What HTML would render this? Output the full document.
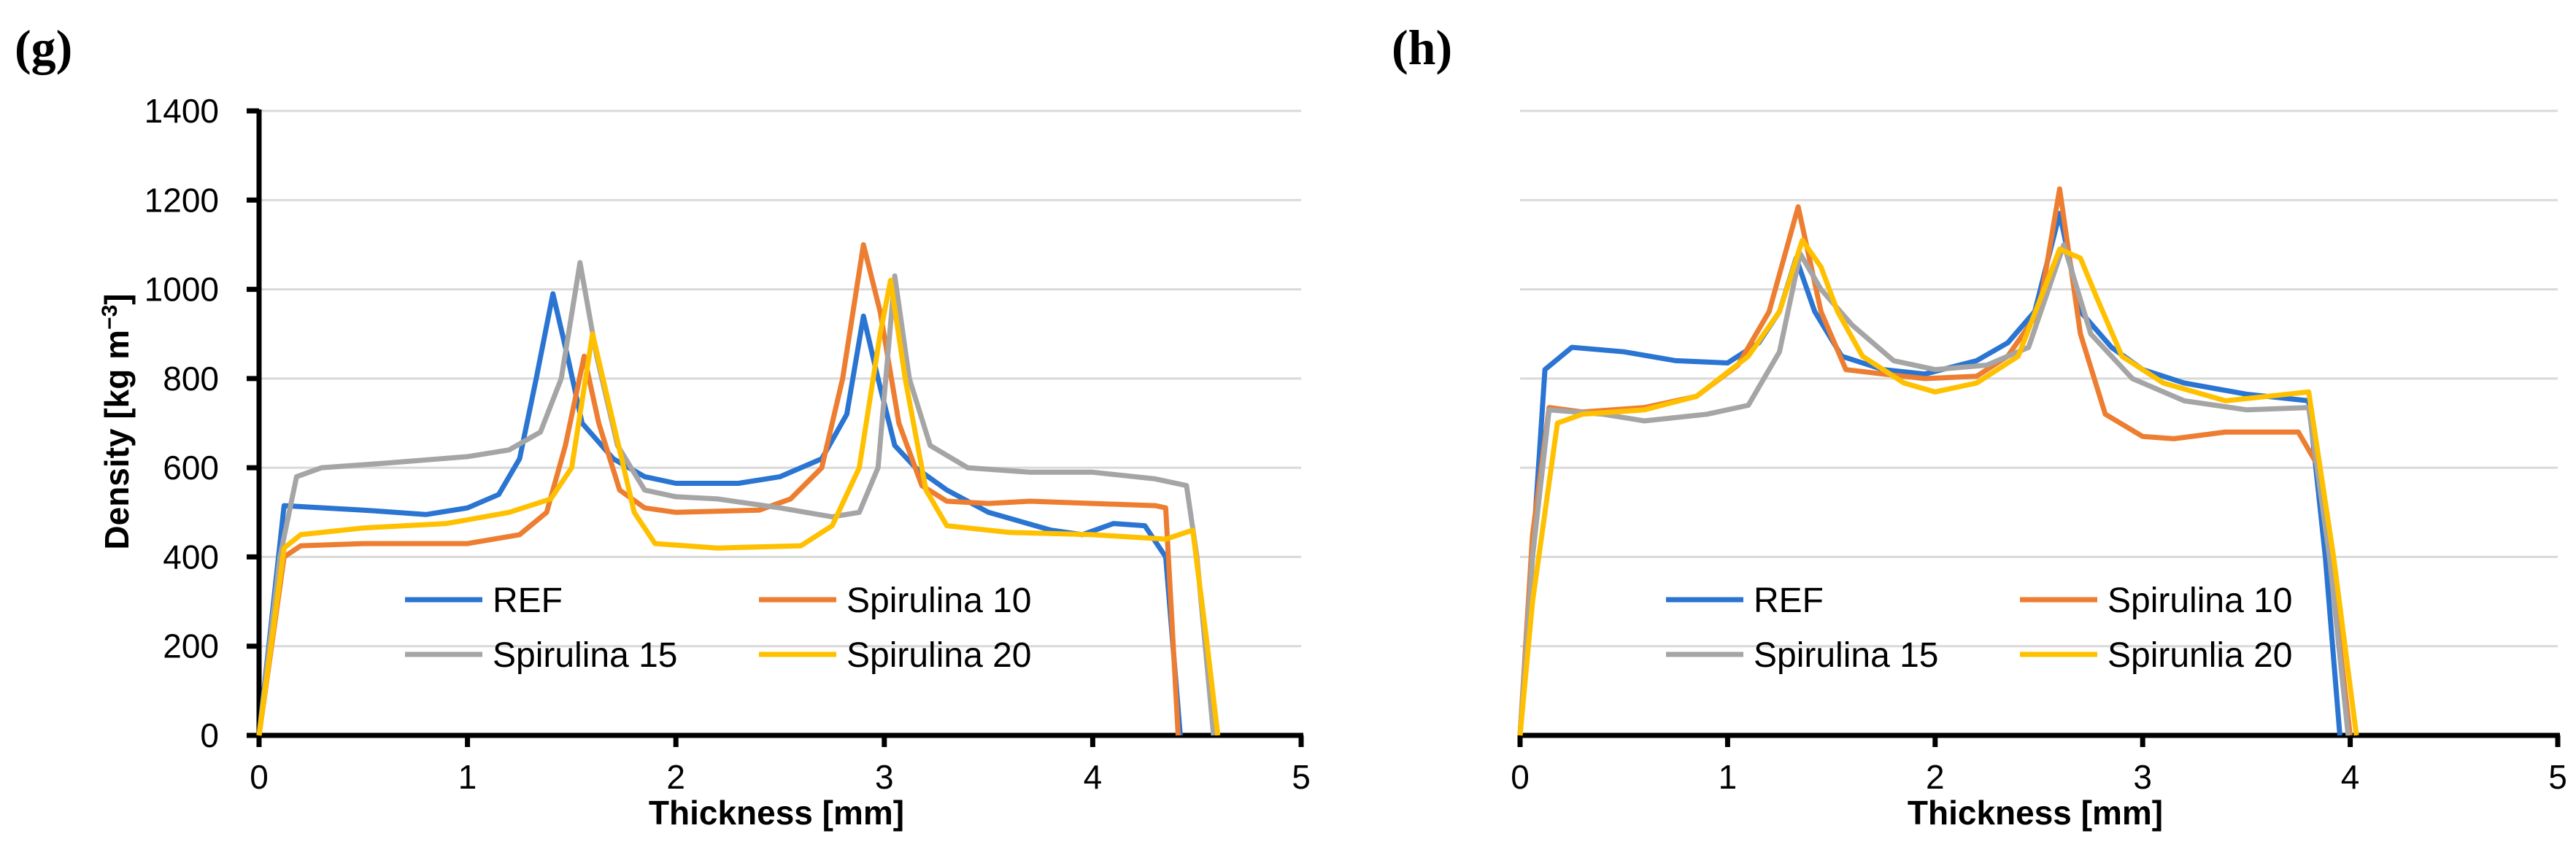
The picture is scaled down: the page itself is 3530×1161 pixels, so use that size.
<!DOCTYPE html>
<html><head><meta charset="utf-8"><style>
html,body{margin:0;padding:0;background:#fff;}
svg{display:block;}
text{font-family:"Liberation Sans",Arial,sans-serif;}
</style></head><body>
<svg id="svg" width="3530" height="1161" viewBox="0 0 3530 1161" xmlns="http://www.w3.org/2000/svg"></svg>
<script>
const xTicks=[0,1,2,3,4,5];
const yTicks=[0,200,400,600,800,1000,1200,1400];
const seriesNames=['REF','Spirulina 10','Spirulina 15','Spirulina 20'];
const seriesNamesH=['REF','Spirulina 10','Spirulina 15','Spirunlia 20'];
const colors=['#2a74d2','#ED7D31','#A5A5A5','#FFC000'];
// Panel g
const gRefX=[0,0.12,0.5,0.8,1.0,1.15,1.25,1.33,1.41,1.48,1.55,1.7,1.85,2.0,2.3,2.5,2.7,2.82,2.9,2.97,3.05,3.15,3.3,3.5,3.8,3.95,4.1,4.25,4.35,4.42];
const gRefY=[0,515,505,495,510,540,620,800,990,850,700,620,580,565,565,580,620,720,940,800,650,600,550,500,460,450,475,470,400,0];
const gS10X=[0,0.12,0.2,0.5,1.0,1.25,1.38,1.47,1.56,1.63,1.73,1.85,2.0,2.4,2.55,2.7,2.8,2.9,2.98,3.07,3.18,3.3,3.5,3.7,4.0,4.3,4.35,4.41];
const gS10Y=[0,400,425,430,430,450,500,650,850,700,550,510,500,505,530,600,800,1100,950,700,560,525,520,525,520,515,510,0];
const gS15X=[0,0.1,0.18,0.3,0.6,1.0,1.2,1.35,1.45,1.54,1.62,1.72,1.85,2.0,2.2,2.5,2.75,2.88,2.97,3.05,3.12,3.22,3.4,3.7,4.0,4.3,4.45,4.5,4.58];
const gS15Y=[0,400,580,600,610,625,640,680,800,1060,850,650,550,535,530,510,490,500,600,1030,800,650,600,590,590,575,560,400,0];
const gS20X=[0,0.12,0.2,0.5,0.9,1.2,1.4,1.5,1.6,1.7,1.8,1.9,2.2,2.6,2.75,2.88,2.98,3.03,3.1,3.2,3.3,3.6,4.0,4.35,4.48,4.55,4.6];
const gS20Y=[0,420,450,465,475,500,530,600,900,700,500,430,420,425,470,600,900,1020,800,550,470,455,450,440,460,200,0];
// Panel h
const hRefX=[0,0.06,0.12,0.25,0.5,0.75,1.0,1.15,1.25,1.33,1.42,1.55,1.75,1.95,2.2,2.35,2.48,2.6,2.7,2.85,3.0,3.2,3.5,3.8,3.88,3.95];
const hRefY=[0,400,820,870,860,840,835,880,950,1070,950,850,820,810,840,880,950,1170,950,870,820,790,765,750,400,0];
const hS10X=[0,0.06,0.14,0.3,0.6,0.85,1.05,1.2,1.34,1.45,1.57,1.75,1.95,2.2,2.35,2.5,2.6,2.7,2.82,3.0,3.15,3.4,3.75,3.85,4.0];
const hS10Y=[0,450,735,725,735,760,830,950,1185,950,820,810,800,805,850,950,1225,900,720,670,665,680,680,600,0];
const hS15X=[0,0.06,0.14,0.4,0.6,0.9,1.1,1.25,1.35,1.45,1.6,1.8,2.0,2.25,2.45,2.62,2.75,2.95,3.2,3.5,3.8,3.9,3.99];
const hS15Y=[0,400,730,720,705,720,740,860,1080,1000,920,840,820,830,870,1100,900,800,750,730,735,400,0];
const hS20X=[0,0.06,0.18,0.3,0.6,0.85,1.1,1.25,1.36,1.45,1.53,1.65,1.85,2.0,2.2,2.4,2.6,2.7,2.78,2.9,3.1,3.4,3.6,3.8,3.92,4.03];
const hS20Y=[0,300,700,720,730,760,850,950,1110,1050,950,850,790,770,790,850,1090,1070,980,850,790,750,760,770,400,0];

const svg=document.getElementById('svg');
const NS='http://www.w3.org/2000/svg';
function mk(tag,attrs,parent){const e=document.createElementNS(NS,tag);for(const k in attrs)e.setAttribute(k,attrs[k]);(parent||svg).appendChild(e);return e;}

function panel(id,x0,x5,gridLeft,showY,label,labelX,names,data){
  const y0=1008,y1400=152;
  const sx=v=>x0+(x5-x0)*v/5;
  const sy=v=>y0-(y0-y1400)*v/1400;
  const g=mk('g',{});
  
  
  yTicks.forEach(t=>{ if(t===0)return;
    const l=mk('line',{x1:gridLeft,x2:x5,y1:sy(t),y2:sy(t),stroke:'#d9d9d9','stroke-width':3},g);
    
    
  });
  if(showY){
    const ax=mk('line',{x1:x0,x2:x0,y1:sy(1400)-2,y2:y0+15,stroke:'#000','stroke-width':7},g);
    
    
    yTicks.forEach(t=>{
      mk('line',{x1:x0-17,x2:x0,y1:sy(t),y2:sy(t),stroke:'#000','stroke-width':7},g);
      const tx=mk('text',{x:x0-55,y:sy(t)+16,'font-size':46,'text-anchor':'end',fill:'#000'},g);
      tx.textContent=t;
      
      
    });
    const yt=mk('text',{x:0,y:0,'font-size':46,'font-weight':'bold','text-anchor':'middle',transform:`translate(176,578) rotate(-90)`},g);
    yt.innerHTML='Density [kg m<tspan dy="-16" font-size="30">−3</tspan><tspan dy="16">]</tspan>';
    
    
  }
  const xa=mk('line',{x1:x0-3,x2:x5+3,y1:y0,y2:y0,stroke:'#000','stroke-width':7},g);
  
  
  xTicks.forEach(t=>{
    mk('line',{x1:sx(t),x2:sx(t),y1:y0,y2:y0+16,stroke:'#000','stroke-width':7},g);
    const tx=mk('text',{x:sx(t),y:1081,'font-size':46,'text-anchor':'middle',fill:'#000'},g);
    tx.textContent=t;
    
    
  });
  const xt=mk('text',{x:(x0+x5)/2-5,y:1130,'font-size':46,'font-weight':'bold','text-anchor':'middle'},g);
  xt.textContent='Thickness [mm]';
  
  
  data.forEach((s,i)=>{
    const pts=s[0].map((v,j)=>sx(v).toFixed(1)+','+sy(s[1][j]).toFixed(1)).join(' ');
    const p=mk('polyline',{points:pts,fill:'none',stroke:colors[i],'stroke-width':7,'stroke-linejoin':'round'},g);
    
    
  });
  const lx=[x0+200,x0+685], ly=[822,897];
  names.forEach((n,i)=>{
    const cx=lx[i%2], cy=ly[Math.floor(i/2)];
    const le=mk('g',{},g);
    
    
    mk('line',{x1:cx,x2:cx+106,y1:cy,y2:cy,stroke:colors[i],'stroke-width':7},le);
    const t=mk('text',{x:cx+120,y:cy+17,'font-size':48},le);
    t.textContent=n;
  });
  const lb=mk('text',{x:labelX,y:88,'font-size':68,'font-weight':'bold',style:'font-family:"Liberation Serif",serif'},g);
  lb.textContent=label;
  
  
}
panel('g',355,1783,355,true,'(g)',20,seriesNames,[[gRefX,gRefY],[gS10X,gS10Y],[gS15X,gS15Y],[gS20X,gS20Y]]);
panel('h',2083,3505,2083,false,'(h)',1907,seriesNamesH,[[hRefX,hRefY],[hS10X,hS10Y],[hS15X,hS15Y],[hS20X,hS20Y]]);
</script>
</body></html>
